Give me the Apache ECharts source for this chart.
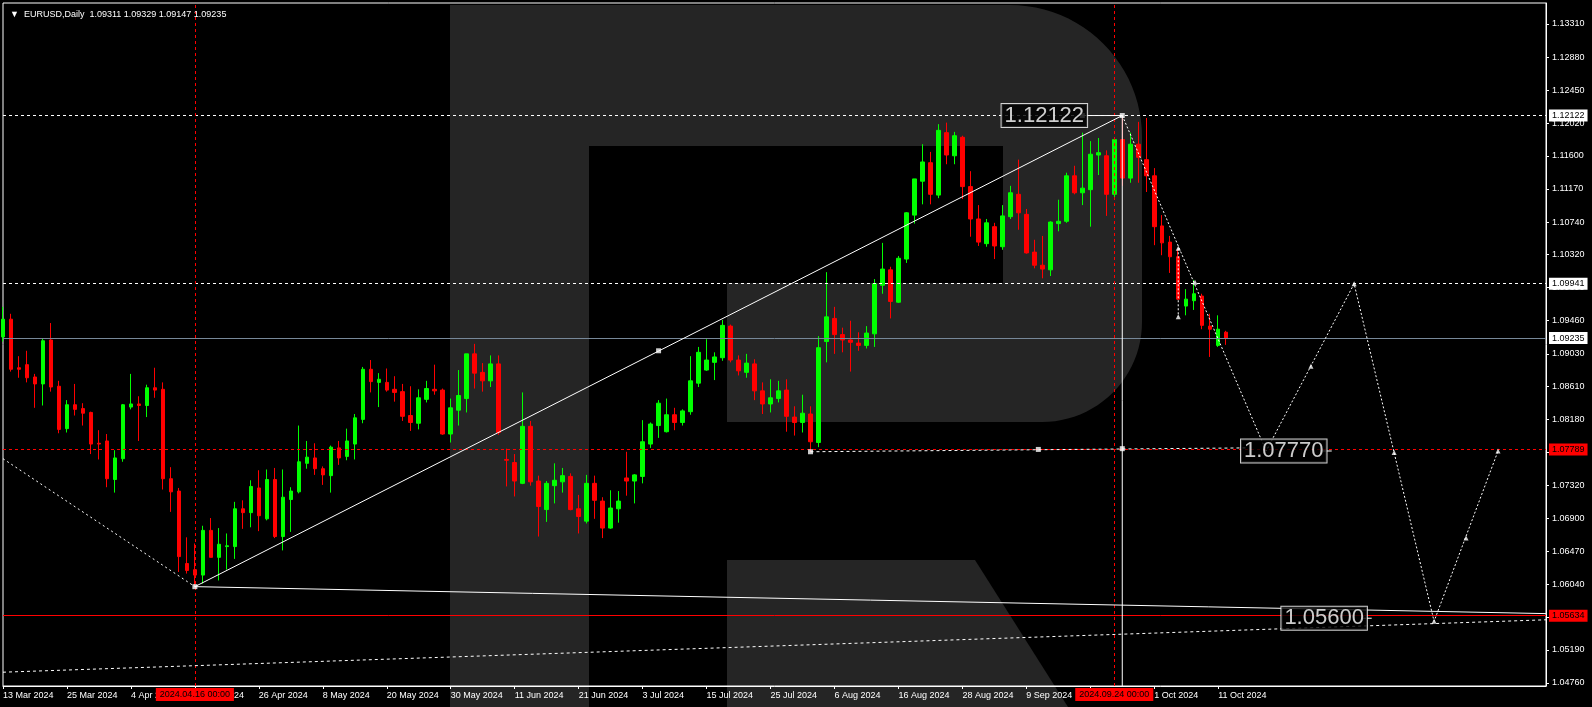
<!DOCTYPE html>
<html>
<head>
<meta charset="utf-8">
<style>
html,body{margin:0;padding:0;background:#000;}
#chart{width:1592px;height:707px;}
</style>
<script src="https://cdn.jsdelivr.net/npm/echarts@6/dist/echarts.min.js"></script>
</head>
<body>
<div id="chart"></div>
<script>
// ---------------- DATA ----------------
const symbolName = 'EURUSD,Daily';
const firstDay = [2024, 2, 13];          // 13 Mar 2024 (year, monthIndex, day)
const categoryCount = 194;               // daily bars incl. empty future area
const labelEvery = 8;
const lastLabelIndex = 152;

const opens = [
1.0925,1.0948,1.0885,1.0889,1.0873,1.0864,1.0921,1.0861,1.0806,1.0837,
1.0832,1.0827,1.0787,1.0790,1.0740,1.0767,1.0834,1.0838,1.0836,1.0859,
1.0857,1.0741,1.0725,1.0631,1.0623,1.0616,1.0674,1.0639,1.0653,1.0653,
1.0702,1.0697,1.0729,1.0689,1.0740,1.0666,1.0714,1.0724,1.0761,1.0768,
1.0754,1.0745,1.0781,1.0770,1.0786,1.0818,1.0883,1.0866,1.0866,1.0857,
1.0854,1.0823,1.0813,1.0844,1.0857,1.0856,1.0799,1.0830,1.0845,1.0903,
1.0879,1.0868,1.0890,1.0766,1.0762,1.0735,1.0809,1.0738,1.0701,1.0732,
1.0737,1.0744,1.0702,1.0686,1.0735,1.0712,1.0677,1.0702,1.0742,1.0738,
1.0744,1.0786,1.0810,1.0802,1.0824,1.0814,1.0828,1.0865,1.0882,1.0892,
1.0898,1.0939,1.0895,1.0879,1.0890,1.0855,1.0838,1.0845,1.0856,1.0821,
1.0814,1.0825,1.0788,1.0919,1.0949,1.0928,1.0921,1.0917,1.0914,1.0929,
1.0992,1.1012,1.0970,1.1026,1.1083,1.1127,1.1151,1.1109,1.1190,1.1160,
1.1184,1.1120,1.1078,1.1046,1.1068,1.1042,1.1081,1.1110,1.1084,1.1035,
1.1018,1.1012,1.1072,1.1075,1.1134,1.1112,1.1116,1.1161,1.1160,1.1110,
1.1181,1.1131,1.1175,1.1155,1.1134,1.1069,1.1048,1.1029,1.0965,1.0972,
1.0978,1.0939,1.0914,1.09311];
const highs = [
1.0964,1.0955,1.0900,1.0907,1.0877,1.0923,1.0943,1.0868,1.0843,1.0864,
1.0839,1.0828,1.0804,1.0799,1.0778,1.0838,1.0877,1.0848,1.0863,1.0885,
1.0866,1.0756,1.0729,1.0665,1.0657,1.0680,1.0690,1.0677,1.0670,1.0711,
1.0713,1.0739,1.0752,1.0753,1.0755,1.0753,1.0730,1.0810,1.0790,1.0787,
1.0757,1.0784,1.0790,1.0806,1.0825,1.0886,1.0895,1.0878,1.0884,1.0874,
1.0864,1.0861,1.0857,1.0868,1.0889,1.0858,1.0845,1.0882,1.0903,1.0916,
1.0891,1.0901,1.0901,1.0780,1.0773,1.0853,1.0816,1.0745,1.0738,1.0761,
1.0755,1.0748,1.0720,1.0746,1.0745,1.0717,1.0726,1.0725,1.0776,1.0747,
1.0817,1.0814,1.0843,1.0845,1.0833,1.0831,1.0900,1.0912,1.0922,1.0905,
1.0947,1.0941,1.0901,1.0903,1.0896,1.0866,1.0870,1.0868,1.0870,1.0835,
1.0850,1.0835,1.0926,1.1009,1.0964,1.0937,1.0946,1.0931,1.0939,1.1000,
1.1047,1.1016,1.1030,1.1087,1.1130,1.1175,1.1165,1.1201,1.1203,1.1191,
1.1186,1.1140,1.1096,1.1078,1.1073,1.1096,1.1121,1.1155,1.1091,1.1051,
1.1056,1.1075,1.1103,1.1138,1.1147,1.1190,1.1179,1.1183,1.1167,1.1181,
1.12122,1.1190,1.1204,1.1209,1.1144,1.1083,1.1056,1.1039,1.0987,1.0999,
1.0981,1.0955,1.0953,1.09329];
const lows = [
1.0919,1.0880,1.0872,1.0866,1.0833,1.0836,1.0854,1.0800,1.0801,1.0823,
1.0810,1.0773,1.0766,1.0730,1.0723,1.0763,1.0831,1.0790,1.0821,1.0846,
1.0727,1.0698,1.0620,1.0618,1.0601,1.0605,1.0639,1.0609,1.0623,1.0637,
1.0676,1.0678,1.0673,1.0687,1.0664,1.0648,1.0672,1.0722,1.0754,1.0746,
1.0733,1.0723,1.0759,1.0765,1.0766,1.0813,1.0853,1.0834,1.0854,1.0841,
1.0816,1.0803,1.0805,1.0840,1.0850,1.0798,1.0788,1.0810,1.0827,1.0858,
1.0854,1.0860,1.0798,1.0731,1.0718,1.0734,1.0732,1.0666,1.0685,1.0709,
1.0723,1.0700,1.0670,1.0683,1.0689,1.0664,1.0676,1.0684,1.0719,1.0709,
1.0735,1.0781,1.0794,1.0801,1.0804,1.0810,1.0824,1.0860,1.0881,1.0869,
1.0894,1.0892,1.0875,1.0872,1.0843,1.0825,1.0827,1.0840,1.0802,1.0797,
1.0801,1.0776,1.0782,1.0892,1.0903,1.0905,1.0880,1.0907,1.0910,1.0912,
1.0981,1.0949,1.0969,1.1021,1.1072,1.1097,1.1097,1.1105,1.1149,1.1149,
1.1104,1.1055,1.1043,1.1042,1.1026,1.1038,1.1078,1.1064,1.1033,1.1014,
1.1001,1.1004,1.1062,1.1073,1.1110,1.1096,1.1068,1.1135,1.1082,1.1104,
1.1121,1.1125,1.1125,1.1113,1.1044,1.1031,1.1008,1.0973,1.0953,1.0960,
1.0935,1.0899,1.0912,1.09147];
const closes = [
1.0948,1.0883,1.0883,1.0872,1.0864,1.0920,1.0860,1.0805,1.0837,1.0831,
1.0826,1.0786,1.0786,1.0741,1.0768,1.0837,1.0838,1.0836,1.0859,1.0856,
1.0741,1.0724,1.0640,1.0622,1.0616,1.0674,1.0639,1.0656,1.0654,1.0702,
1.0697,1.0731,1.0693,1.0740,1.0666,1.0717,1.0725,1.0763,1.0769,1.0754,
1.0746,1.0782,1.0768,1.0790,1.0820,1.0883,1.0867,1.0870,1.0856,1.0853,
1.0822,1.0814,1.0846,1.0858,1.0855,1.0799,1.0833,1.0849,1.0903,1.0878,
1.0868,1.0890,1.0801,1.0765,1.0738,1.0809,1.0737,1.0705,1.0735,1.0739,
1.0745,1.0701,1.0692,1.0735,1.0713,1.0677,1.0703,1.0712,1.0738,1.0746,
1.0789,1.0812,1.0839,1.0824,1.0814,1.0829,1.0868,1.0905,1.0895,1.0899,
1.0940,1.0895,1.0881,1.0891,1.0855,1.0838,1.0846,1.0855,1.0822,1.0814,
1.0826,1.0789,1.0911,1.0951,1.0928,1.0921,1.0918,1.0914,1.0930,1.0994,
1.1013,1.0971,1.1027,1.1086,1.1130,1.1152,1.1110,1.1193,1.1161,1.1186,
1.1120,1.1078,1.1048,1.1073,1.1043,1.1082,1.1112,1.1086,1.1034,1.1018,
1.1013,1.1074,1.1075,1.1134,1.1112,1.1118,1.1162,1.1164,1.1110,1.1181,
1.1131,1.1175,1.1158,1.1134,1.1068,1.1047,1.1029,1.0974,1.0974,1.0981,
1.0940,1.0935,1.0935,1.09235];

// price axis
const priceMin = 1.04721;
const priceMax = 1.13582;
const priceTicks = [1.0476,1.0519,1.0561,1.0604,1.0647,1.0690,1.0732,1.0775,1.0818,1.0861,
  1.0903,1.0946,1.0989,1.1032,1.1074,1.1117,1.1160,1.1202,1.1245,1.1288,1.1331];

// horizontal / vertical levels
const levelHigh = 1.12122;
const levelResist = 1.09941;
const levelBid = 1.09235;
const levelSupport = 1.07789;
const levelLow = 1.05634;
const crossDates = [[24, '2024.04.16 00:00'], [139, '2024.09.24 00:00']];

// drawings: [barIndex, price]
const trendUp = [[24, 1.0601], [140, 1.12122]];
const trendFlat = [[24, 1.0601], [193, 1.0566]];
const trendLeftDashed = [[0, 1.0767], [24, 1.0601]];
const channelLow = [[0, 1.0490], [193, 1.0558]];
const supportDashed = [[101, 1.0776], [155.5, 1.0781]];
const forecastPath = [[140, 1.12122], [158, 1.0777], [169, 1.0994], [179, 1.0556], [187, 1.0777]];
const forecastTick = [[147, 1.1040], [147, 1.0951]];
const peakDrop = [[140, 1.12122], [140, 1.04721]];
const connectorHigh = [[135, 1.12122], [140, 1.12122]];
const connectorMid = [[164.9, 1.0777], [166.2, 1.0777]];
const connectorLow = [[169.9, 1.0560], [171.2, 1.0560]];
const squarePoints = [[24, 1.0601], [82, 1.0907], [140, 1.12122], [135, 1.12122], [101, 1.0776], [129.5, 1.0779], [140, 1.0780]];
const arrowPoints = [[147, 1.1040], [149.1, 1.0996], [147, 1.0951], [163.6, 1.0887], [169, 1.0994], [174, 1.0775], [179, 1.0556], [183, 1.0664], [187, 1.0777]];
const textBoxes = [[130.25, 1.12122], [160.2, 1.0777], [165.25, 1.0560]];

// ---------------- BUILD ----------------
const MONTHS = ['Jan','Feb','Mar','Apr','May','Jun','Jul','Aug','Sep','Oct','Nov','Dec'];
const categories = [];
for (let t = Date.UTC(firstDay[0], firstDay[1], firstDay[2]); categories.length < categoryCount; t += 86400000) {
  const d = new Date(t);
  const w = d.getUTCDay();
  if (w === 0 || w === 6) continue;
  categories.push(d.getUTCDate() + ' ' + MONTHS[d.getUTCMonth()] + ' ' + d.getUTCFullYear());
}
const candles = opens.map((o, i) => [o, closes[i], lows[i], highs[i]]);
const last = opens.length - 1;
const header = '\u25BC  ' + symbolName + '  ' +
  [opens[last], highs[last], lows[last], closes[last]].map(v => v.toFixed(5)).join(' ');

const FONT = "'Liberation Sans', Arial, sans-serif";
const BIGFONT = "'Liberation Sans Narrow', 'Liberation Sans', Arial, sans-serif";
const showTick = (idx) => idx % labelEvery === 0 && idx <= lastLabelIndex;

function hLevel(value, lineColor, dash, boxColor, textColor) {
  return {
    yAxis: value,
    lineStyle: { color: lineColor, type: dash, width: 1 },
    label: {
      show: true, position: 'end', distance: 3,
      formatter: value.toFixed(5),
      backgroundColor: boxColor, color: textColor,
      fontFamily: FONT, fontSize: 9, padding: [2, 3, 1, 3]
    }
  };
}
function vLevel(idx, text) {
  return {
    xAxis: categories[idx],
    lineStyle: { color: '#ff0000', type: [3, 3], width: 1 },
    label: {
      show: true, position: 'start', distance: 2,
      formatter: text,
      backgroundColor: '#ff0000', color: '#000',
      fontFamily: FONT, fontSize: 9, padding: [2, 4, 2, 4]
    }
  };
}
function lineSeries(data, color, dash) {
  return {
    type: 'line', xAxisIndex: 1, yAxisIndex: 0, data: data,
    symbol: 'none', silent: true, z: 5, animation: false,
    lineStyle: { color: color, width: 1, type: dash }
  };
}
function arcPts(cx, cy, rx, ry, a0, a1, n) {
  const pts = [];
  for (let k = 0; k <= n; k++) {
    const a = a0 + (a1 - a0) * k / n;
    pts.push([cx + rx * Math.cos(a), cy + ry * Math.sin(a)]);
  }
  return pts;
}
const WM = '#252525';
const bowl = [[589, 5]]
  .concat(arcPts(1010, 137, 132, 132, -Math.PI / 2, 0, 24))
  .concat(arcPts(1042, 322, 100, 100, 0, Math.PI / 2, 24))
  .concat([[727, 422], [727, 283], [1003, 283], [1003, 146], [589, 146]]);

const chart = echarts.init(document.getElementById('chart'), null, { renderer: 'canvas' });
chart.setOption({
  backgroundColor: '#000',
  animation: false,
  title: {
    text: header, left: 5, top: 5,
    textStyle: { color: '#fff', fontSize: 9, fontWeight: 'normal', fontFamily: FONT }
  },
  graphic: [
    { type: 'rect', z: -10, silent: true, shape: { x: 450, y: 5, width: 139, height: 702 }, style: { fill: WM } },
    { type: 'polygon', z: -10, silent: true, shape: { points: bowl }, style: { fill: WM } },
    { type: 'polygon', z: -10, silent: true, shape: { points: [[727, 560], [975, 560], [1068, 707], [727, 707]] }, style: { fill: WM } }
  ],
  grid: {
    left: 3, top: 3, right: 46, bottom: 21,
    show: true, borderColor: '#ffffff', borderWidth: 1, backgroundColor: 'transparent'
  },
  xAxis: [
    {
      type: 'category', data: categories, boundaryGap: false,
      axisLine: { show: true, lineStyle: { color: '#fff' } },
      axisTick: { show: true, interval: showTick, length: 3, lineStyle: { color: '#fff' } },
      axisLabel: {
        show: true, interval: showTick, align: 'left', margin: 5,
        color: '#fff', fontSize: 9, fontFamily: FONT
      },
      splitLine: { show: false }
    },
    { type: 'value', min: 0, max: categoryCount - 1, show: false, splitLine: { show: false } }
  ],
  yAxis: {
    type: 'value', position: 'right', min: priceMin, max: priceMax, scale: true,
    axisLine: { show: true, onZero: false, lineStyle: { color: '#fff' } },
    axisTick: { show: true, length: 3, customValues: priceTicks, lineStyle: { color: '#fff' } },
    axisLabel: {
      show: true, customValues: priceTicks, margin: 6,
      formatter: (v) => Number(v).toFixed(5),
      color: '#fff', fontSize: 9, fontFamily: FONT
    },
    splitLine: { show: false }
  },
  series: [
    {
      type: 'candlestick', xAxisIndex: 0, yAxisIndex: 0, data: candles,
      barWidth: 4, silent: true, z: 3,
      itemStyle: {
        color: '#00ff00', color0: '#ff0000',
        borderColor: '#00ff00', borderColor0: '#ff0000', borderWidth: 1
      },
      markLine: {
        symbol: ['none', 'none'], silent: true, animation: false, z: 4, precision: 5,
        data: [
          hLevel(levelHigh, '#ffffff', [3, 3], '#ffffff', '#000'),
          hLevel(levelResist, '#ffffff', [3, 3], '#ffffff', '#000'),
          hLevel(levelBid, '#778899', 'solid', '#ffffff', '#000'),
          hLevel(levelSupport, '#ff0000', [3, 3], '#ff0000', '#000'),
          hLevel(levelLow, '#ff0000', 'solid', '#ff0000', '#000'),
          vLevel(crossDates[0][0], crossDates[0][1]),
          vLevel(crossDates[1][0], crossDates[1][1])
        ]
      }
    },
    lineSeries(trendUp, '#ffffff', 'solid'),
    lineSeries(trendFlat, '#ffffff', 'solid'),
    lineSeries(trendLeftDashed, '#ffffff', [2, 3]),
    lineSeries(channelLow, '#ffffff', [3, 3]),
    lineSeries(supportDashed, '#ffffff', [3, 3]),
    lineSeries(forecastPath, '#ffffff', [2, 2]),
    lineSeries(forecastTick, '#ffffff', [2, 2]),
    lineSeries(peakDrop, '#ffffff', 'solid'),
    lineSeries(connectorHigh, '#ffffff', 'solid'),
    lineSeries(connectorMid, '#ffffff', 'solid'),
    lineSeries(connectorLow, '#ffffff', 'solid'),
    {
      type: 'scatter', xAxisIndex: 1, yAxisIndex: 0, data: squarePoints,
      symbol: 'rect', symbolSize: 5, silent: true, z: 6,
      itemStyle: { color: '#ffffff' }
    },
    {
      type: 'scatter', xAxisIndex: 1, yAxisIndex: 0, data: arrowPoints,
      symbol: 'triangle', symbolSize: 5, silent: true, z: 6,
      itemStyle: { color: '#ffffff' }
    },
    {
      type: 'scatter', xAxisIndex: 1, yAxisIndex: 0, data: textBoxes,
      symbol: 'rect', symbolSize: 1, silent: true, z: 7,
      itemStyle: { color: 'rgba(0,0,0,0)' },
      label: {
        show: true, position: 'inside',
        formatter: (p) => p.value[1].toFixed(5),
        color: '#ffffff', backgroundColor: '#000000',
        borderColor: '#ffffff', borderWidth: 1,
        fontFamily: BIGFONT, fontSize: 22, lineHeight: 22,
        padding: [1, 3, 0, 3]
      }
    }
  ]
});
</script>
</body>
</html>
